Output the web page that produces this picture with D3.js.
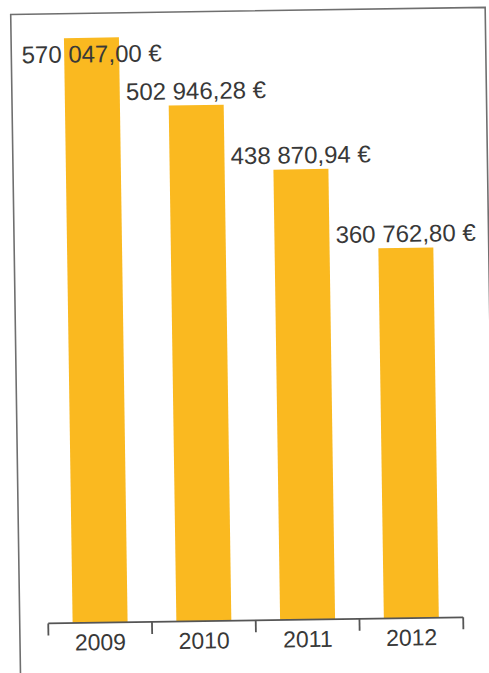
<!DOCTYPE html>
<html lang="fr">
<head>
    <meta charset="UTF-8">
    <title>Montants 2009-2012</title>
    <script src="https://d3js.org/d3.v7.min.js"></script>
    <style>
        body, html {
            margin: 0;
            padding: 0;
            background: #fff;
        }
        text {
            font-family: "Liberation Sans", Arial, sans-serif;
            fill: #383838;
        }
    </style>
</head>
<body>
    <div id="chart"></div>

    <script>
        // Data
        const years = ["2009", "2010", "2011", "2012"];
        const amounts = [570047.00, 502946.28, 438870.94, 360762.80];

        const width = 489;
        const height = 673;

        const fr = d3.formatLocale({
            decimal: ",",
            thousands: " ",
            grouping: [3],
            currency: ["", " €"]
        });
        const fmt = fr.format("$,.2f");

        const svg = d3.select("#chart")
            .append("svg")
            .attr("width", width)
            .attr("height", height);

        // the scan is slightly tilted, so draw straight and rotate the whole group
        const g = svg.append("g")
            .attr("transform", "rotate(-0.85, 244, 336)");

        // Frame (left, top, right)
        g.append("path")
            .attr("d", "M15.5,700 V11 H490 V700")
            .attr("fill", "none")
            .attr("stroke", "#6f6f6f")
            .attr("stroke-width", 1.6);

        const baseY = 620.5;

        const x = d3.scaleBand()
            .domain(years)
            .range([44, 459])
            .paddingInner(0.47)
            .paddingOuter(0.235);

        const y = d3.scaleLinear()
            .domain([0, d3.max(amounts)])
            .range([baseY, 35.5]);

        const rows = years.map((yr, i) => ({ year: yr, value: amounts[i] }));

        // Bars
        g.selectAll(".bar")
            .data(rows)
            .enter()
            .append("rect")
            .attr("class", "bar")
            .attr("x", d => x(d.year))
            .attr("y", d => y(d.value))
            .attr("width", x.bandwidth())
            .attr("height", d => baseY - y(d.value))
            .attr("fill", "#fab920");

        // Value labels: above the bar, or inside when too close to the frame
        g.selectAll(".val")
            .data(rows)
            .enter()
            .append("text")
            .attr("class", "val")
            .attr("x", d => x(d.year) + x.bandwidth() / 2)
            .attr("y", d => y(d.value) - 6 < 45 ? y(d.value) + 24.5 : y(d.value) - 6)
            .attr("text-anchor", "middle")
            .attr("font-size", 24)
            .text(d => fmt(d.value));

        // Category axis with ticks between bands
        const gap = x.step() * x.paddingInner() / 2;
        const edges = years.map(d => x(d) - gap).concat([x(years[years.length - 1]) + x.bandwidth() + gap]);

        g.append("line")
            .attr("x1", edges[0])
            .attr("x2", edges[edges.length - 1])
            .attr("y1", baseY)
            .attr("y2", baseY)
            .attr("stroke", "#555")
            .attr("stroke-width", 1.8);

        g.selectAll(".tick")
            .data(edges)
            .enter()
            .append("line")
            .attr("class", "tick")
            .attr("x1", d => d)
            .attr("x2", d => d)
            .attr("y1", baseY)
            .attr("y2", baseY + 12)
            .attr("stroke", "#555")
            .attr("stroke-width", 1.8);

        g.selectAll(".year")
            .data(years)
            .enter()
            .append("text")
            .attr("class", "year")
            .attr("x", d => x(d) + x.bandwidth() / 2)
            .attr("y", baseY + 27.5)
            .attr("text-anchor", "middle")
            .attr("font-size", 23)
            .text(d => d);
    </script>
</body>
</html>
